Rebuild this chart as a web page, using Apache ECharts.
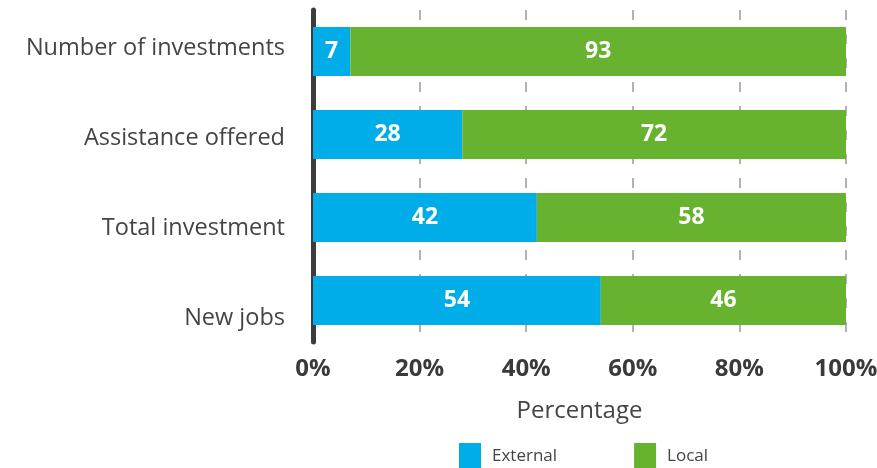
<!DOCTYPE html>
<html><head><meta charset="utf-8">
<script src="https://cdn.jsdelivr.net/npm/echarts@6/dist/echarts.min.js"></script>
<style>html,body{margin:0;padding:0;background:#fff}#c{width:877px;height:468px}</style>
</head><body><div id="c"></div>
<script>
const categories = ["Number of investments", "Assistance offered", "Total investment", "New jobs"];
const external = [7, 28, 42, 54];
const local = [93, 72, 58, 46];
const xTicks = [0, 20, 40, 60, 80, 100];

const font = "Open Sans";
const chart = echarts.init(document.getElementById('c'));
chart.setOption({
  animation: false,
  textStyle: { fontFamily: font },
  grid: [
    { left: 313, right: 31, top: 10, bottom: 126, containLabel: false, outerBoundsMode: 'none' },
    { left: 313, right: 31, top: 3.5, bottom: 104.5, containLabel: false, outerBoundsMode: 'none' }
  ],
  legend: {
    data: ["External", "Local"],
    left: 459, top: 443, padding: 0,
    itemWidth: 22, itemHeight: 26, itemGap: 77,
    icon: 'rect',
    textStyle: { fontFamily: font, fontSize: 17, color: '#444', padding: [0, 0, 0, 6] }
  },
  xAxis: [{
    type: 'value', min: 0, max: 100, interval: 20, gridIndex: 0,
    name: 'Percentage', nameLocation: 'middle', nameGap: 57,
    nameTextStyle: { fontFamily: font, fontSize: 24, color: '#444' },
    axisLine: { show: false },
    axisTick: { show: false },
    axisLabel: { margin: 15, fontSize: 24, fontWeight: 'bold', color: '#3a3a3a', fontFamily: font,
      formatter: v => v + '%' },
    splitLine: { show: true, lineStyle: { color: '#999', width: 1.5, type: [10, 14] } }
  }, {
    type: 'value', min: 0, max: 100, gridIndex: 1, show: false
  }],
  yAxis: [{
    type: 'category', data: categories, inverse: true, gridIndex: 0,
    axisLine: { show: true, lineStyle: { color: '#3d3d3d', width: 5 } },
    axisTick: { show: false },
    axisLabel: { show: false }
  }, {
    type: 'category', data: categories, inverse: true, gridIndex: 1,
    axisLine: { show: false },
    axisTick: { show: false },
    splitLine: { show: false },
    axisLabel: { margin: 28, fontSize: 23.5, color: '#444', fontFamily: font }
  }],
  series: [
    { name: 'External', type: 'bar', stack: 's', data: external, barWidth: 49,
      itemStyle: { color: '#00ADE8' },
      label: { show: true, position: 'inside', color: '#fff', fontSize: 23, fontWeight: 'bold', fontFamily: font } },
    { name: 'Local', type: 'bar', stack: 's', data: local, barWidth: 49,
      itemStyle: { color: '#67B22F' },
      label: { show: true, position: 'inside', color: '#fff', fontSize: 23, fontWeight: 'bold', fontFamily: font } }
  ]
});
</script></body></html>
